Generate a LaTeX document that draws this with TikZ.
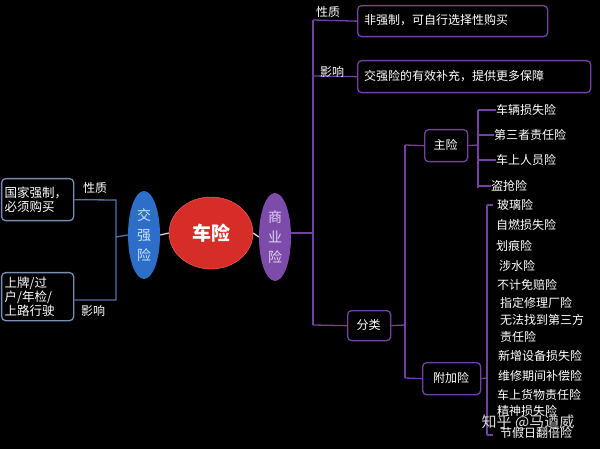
\documentclass[tikz,border=0pt]{standalone}
\usepackage{fontspec}
\setmainfont{Noto Sans CJK SC}
\usetikzlibrary{shapes.geometric}
\definecolor{pl}{RGB}{115,65,160}
\definecolor{bl}{RGB}{85,115,170}
\definecolor{bb}{RGB}{120,140,180}
\tikzset{
 x=1pt,y=-1pt,
 txt/.style={text=white,font=\fontsize{12}{13}\selectfont,inner sep=0pt},
 pbox/.style={draw=pl,line width=1.3pt,rounded corners=4pt,text=white,inner sep=0pt,anchor=north west},
 bbox/.style={draw=bb,line width=1.3pt,rounded corners=4pt,text=white,font=\fontsize{12.5}{14}\selectfont,inner sep=0pt,anchor=north west,align=left},
 pline/.style={draw=pl,line width=1.3pt},
 bline/.style={draw=bl,line width=1.3pt},
 item/.style={txt,anchor=west},
}
\begin{document}
\begin{tikzpicture}
\fill[black] (0,0) rectangle (600,449);
\useasboundingbox (0,0) rectangle (600,449);
% center
\node[ellipse,minimum width=84,minimum height=72,fill={rgb,255:red,215;green,45;blue,40},draw={rgb,255:red,240;green,110;blue,100},text=white,font=\bfseries\fontsize{19}{20}\selectfont] (c) at (211,233) {车险};
\node[ellipse,minimum width=32,minimum height=88,fill={rgb,255:red,45;green,110;blue,200},text={rgb,255:red,200;green,225;blue,255},font=\fontsize{14}{20}\selectfont,align=center,inner sep=0pt] (j) at (144,235) {交\\强\\险};
\node[ellipse,minimum width=32,minimum height=88,fill={rgb,255:red,125;green,75;blue,170},text={rgb,255:red,225;green,210;blue,240},font=\fontsize{14}{20}\selectfont,align=center,inner sep=0pt] (s) at (275,237) {商\\业\\险};
\draw[white!85!black,line width=1.3pt] (j.east) -- (c.west);
\draw[white!85!black,line width=1.3pt] (c.east) -- (s.west);
% left
\node[bbox,minimum width=72,minimum height=42,text width=70] (a1) at (1,178) {\,国家强制，\\\,必须购买};
\node[bbox,minimum width=72,minimum height=48,text width=70] (a2) at (1,272) {\,上牌/过\\\,户/年检/\\\,上路行驶};
\coordinate (lv1) at (116,200);
\coordinate (lv2) at (116,300);
\coordinate (lm) at (116,237);
\draw[bline] (a1.east) -- (lv1) -- (lv2) -- (a2.east |- lv2);
\draw[bline] (lm) -- (j.west);
\node[txt] (l1) at (95,188) {性质};
\node[txt] (l2) at (93,311) {影响};
% right trunk
\coordinate (rm) at (313,233);
\coordinate (rt) at (313,20);
\coordinate (rb) at (313,325);
\draw[pline] (s.east |- rm) -- (rm);
\draw[pline] (rt) -- (rb);
\node[pbox,minimum width=190,minimum height=31] (b1) at (357,5) {};
\node[txt,anchor=west] at (364,20.5) {非强制，可自行选择性购买};
\node[pbox,minimum width=233,minimum height=32] (b2) at (357,60) {};
\node[txt,anchor=west] at (364,76) {交强险的有效补充，提供更多保障};
\draw[pline] (rt) -- (b1.west);
\draw[pline] (313,76) -- (b2.west);
\node[txt] (r1) at (328,12) {性质};
\node[txt] (r2) at (332,72) {影响};
\node[pbox,minimum width=43,minimum height=30] (fl) at (347,310) {};
\node[txt] at (368.5,325) {分类};
\draw[pline] (rb) -- (fl.west);
% level 2
\coordinate (v2t) at (405,145);
\coordinate (v2b) at (405,378);
\draw[pline] (fl.east) -- (405,325);
\draw[pline] (v2t) -- (v2b);
\node[pbox,minimum width=43,minimum height=32] (zx) at (424,129) {};
\node[txt] at (445.5,145) {主险};
\node[pbox,minimum width=58,minimum height=32] (fj) at (422,362) {};
\node[txt] at (451,378) {附加险};
\draw[pline] (v2t) -- (zx.west);
\draw[pline] (v2b) -- (fj.west);
% 主险 items
\draw[pline] (zx.east) -- (478,145);
\draw[pline] (478,110) -- (478,188);
\foreach \y/\x/\t [count=\i] in {110/496/车辆损失险,135/494/第三者责任险,160/496/车上人员险,186/491/盗抢险}{
  \node[item] (z\i) at (\x,\y) {\t};
  \draw[pline] (478,\y) -- (z\i.west);
}
% 附加险 items
\draw[pline] (fj.east) -- (487,378);
\draw[pline] (487,205) -- (487,435);
\draw[pline] (487,205) -- (493,205);
\draw[pline] (487,435) -- (493,435);
\foreach \y/\x/\t [count=\i] in {205/497/玻璃险,225/496/自燃损失险,246/496/划痕险,266/499/涉水险,285/497/不计免赔险,303/500/指定修理厂险,320/500/无法找到第三方,337/500/责任险,356/498/新增设备损失险,376/498/维修期间补偿险,395/497/车上货物责任险,411/497/精神损失险,433/500/节假日翻倍险}{
  \node[item] (f\i) at (\x,\y) {\t};
}
\node[text=white!85!black,font=\fontsize{15}{16}\selectfont,inner sep=0pt] (wm) at (528,422) {知乎 @马遒威};
\end{tikzpicture}
\end{document}
